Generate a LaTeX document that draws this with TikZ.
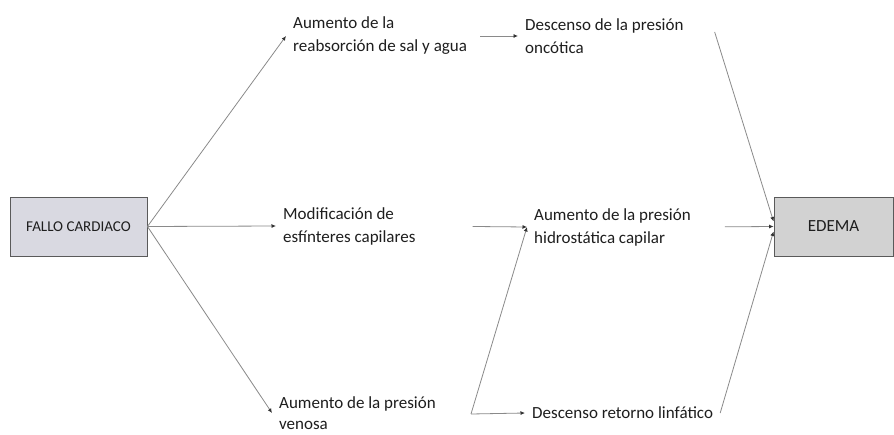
\documentclass[tikz,border=0pt]{standalone}
\usepackage{fontspec}
\setmainfont{Carlito}
\usetikzlibrary{arrows.meta,positioning}
\definecolor{boxfill}{HTML}{D9D9E1}
\definecolor{endfill}{HTML}{D2D2D2}
\definecolor{boxline}{HTML}{5A5A5A}
\definecolor{wirecol}{HTML}{8A8A8A}
\definecolor{txtcol}{HTML}{1E1E1E}
\tikzset{
  box/.style  = {draw=boxline, line width=0.9pt, fill=boxfill, text=txtcol,
                 minimum width=137pt, minimum height=59pt, inner sep=0pt},
  note/.style = {align=left, anchor=west, inner xsep=7pt, inner ysep=0pt,
                 text=txtcol, font=\fontsize{17}{23}\selectfont},
  flow/.style = {draw=wirecol, line width=0.8pt,
                 -{Latex[length=4.5pt,width=4pt,black!80]}},
}

\begin{document}
\begin{tikzpicture}[x=1pt,y=-1pt]
  \useasboundingbox[fill=white] (0,0) rectangle (894,434);
  % end boxes
  \node[box,font=\fontsize{15}{18}\selectfont] (fallo) at (78.5,226.5) {FALLO CARDIACO};
  \node[box,fill=endfill,minimum width=119pt,font=\fontsize{17}{20}\selectfont]
      (edema) at (833.5,226.5) {EDEMA};
  % first column
  \node[note] (reabs)  at (286,36)  {Aumento de la\\reabsorción de sal y agua};
  \node[note] (modif)  at (276,226) {Modificación de\\esfínteres capilares};
  \node[note,font=\fontsize{17}{21}\selectfont] (venosa) at (272,413) {Aumento de la presión\\venosa};
  % second column
  \node[note] (onco)  at (518,36)  {Descenso de la presión\\oncótica};
  \node[note] (hidro) at (527,227) {Aumento de la presión\\hidrostática capilar};
  \node[note] (linf)  at (525,413) {Descenso retorno linfático};
  \coordinate (split) at (471,414);
  % connectors
  \draw[flow] (fallo.east) -- (reabs.west);
  \draw[flow] (fallo.east) -- (modif.west);
  \draw[flow] (fallo.east) -- (venosa.west);
  \draw[flow,shorten <=6pt] (reabs.east) -- (onco.west);
  \draw[flow,shorten <=50pt] (modif.east) -- (hidro.west);
  \draw[flow] (split) -- (hidro.west);
  \draw[flow] (split) -- (linf.west);
  \draw[flow] ([xshift=24pt,yshift=4pt]onco.east) -- ([yshift=5pt]edema.west);
  \draw[flow,shorten <=27pt] (hidro.east) -- (edema.west);
  \draw[flow] (linf.east) -- ([yshift=-5pt]edema.west);
\end{tikzpicture}
\end{document}
